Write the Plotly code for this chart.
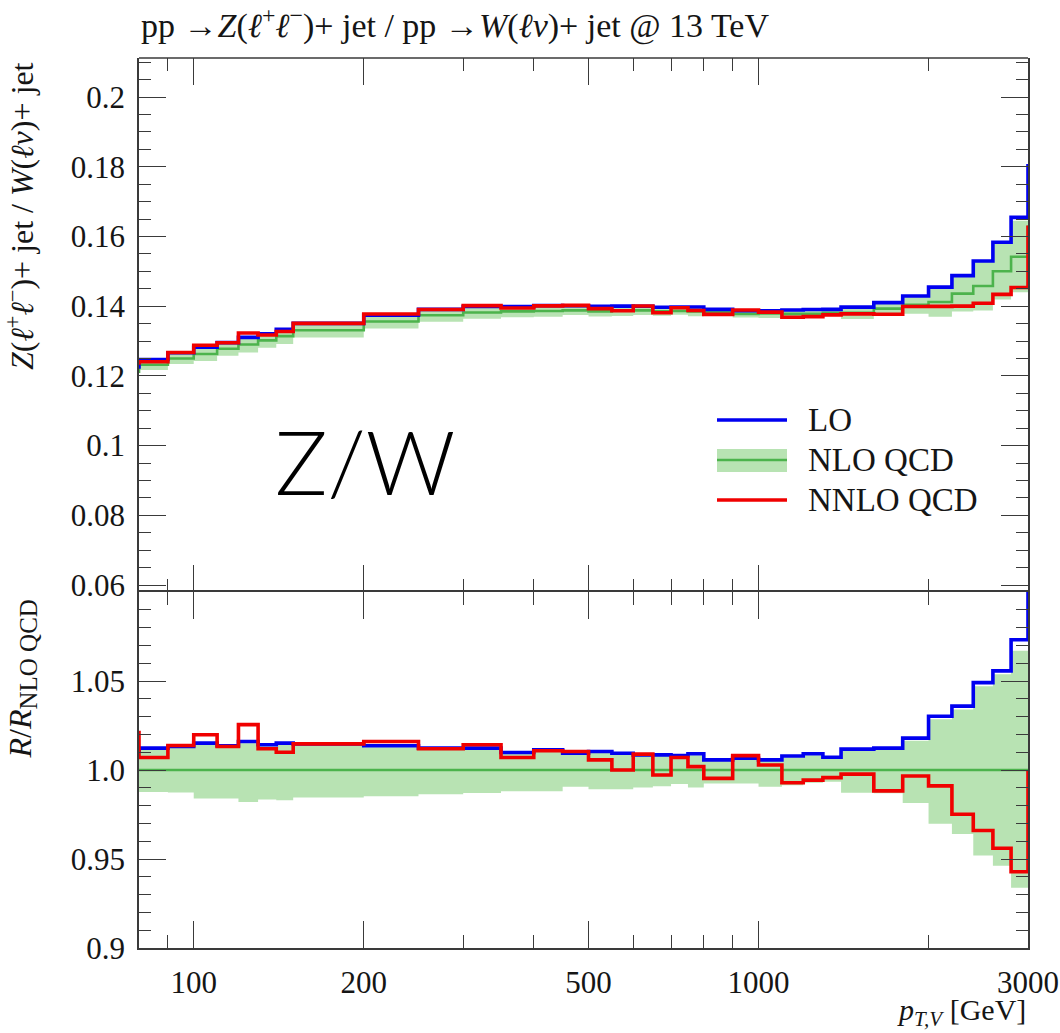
import math
import plotly.graph_objects as go

# Bin edges in p_T,V [GeV]; first and last bins are the under/overflow bins
edges = [70, 80, 90, 100, 110, 120, 130, 140, 150, 200, 250, 300, 350, 400, 450,
         500, 550, 600, 650, 700, 750, 800, 900, 1000, 1100, 1200, 1300, 1400,
         1600, 1800, 2000, 2200, 2400, 2600, 2800, 3000, 3500]

# NLO QCD central value of the Z+jet / W+jet ratio, per bin
nlo = [0.1212,
       0.1232, 0.1250, 0.1263, 0.1278, 0.1290, 0.1302, 0.1314, 0.1331, 0.1356, 0.1374,
       0.1382, 0.1385, 0.1386, 0.1388, 0.1385, 0.1387, 0.1388, 0.1385, 0.1386, 0.1385,
       0.1383, 0.1378, 0.1379, 0.1378, 0.1378, 0.1381, 0.1381, 0.1393, 0.1404, 0.1412,
       0.1436, 0.1458, 0.1500, 0.1542,
       0.1628]

# LO / NLO QCD
lo_ratio = [1.0110,
            1.0123, 1.0132, 1.0151, 1.0136, 1.0160, 1.0142, 1.0151, 1.0147, 1.0136, 1.0123,
            1.0123, 1.0098, 1.0113, 1.0094, 1.0104, 1.0094, 1.0085, 1.0085, 1.0081, 1.0091,
            1.0057, 1.0066, 1.0057, 1.0079, 1.0091, 1.0072, 1.0117, 1.0123, 1.0179, 1.0302,
            1.0359, 1.0491, 1.0557, 1.0732,
            1.1075]

# NNLO QCD / NLO QCD
nnlo_ratio = [1.0210,
              1.0070, 1.0138, 1.0198, 1.0132, 1.0255, 1.0119, 1.0100, 1.0147, 1.0160, 1.0119,
              1.0142, 1.0070, 1.0108, 1.0104, 1.0057, 1.0000, 1.0089, 0.9972, 1.0070, 1.0019,
              0.9953, 1.0081, 1.0028, 0.9928, 0.9943, 0.9957, 0.9977, 0.9883, 0.9966, 0.9911,
              0.9751, 0.9660, 0.9560, 0.9428,
              0.9990]

# NLO QCD scale-uncertainty band (relative to the NLO central value), 80-3000 GeV bins
band_low = [0.9877, 0.9874, 0.9840, 0.9840, 0.9820, 0.9834, 0.9830, 0.9845, 0.9853, 0.9864,
            0.9871, 0.9881, 0.9881, 0.9906, 0.9892, 0.9892, 0.9902, 0.9909, 0.9921, 0.9902,
            0.9924, 0.9924, 0.9906, 0.9915, 0.9928, 0.9934, 0.9872, 0.9870, 0.9815, 0.9698,
            0.9641, 0.9519, 0.9462, 0.9339]
band_high = [1.0115, 1.0125, 1.0142, 1.0128, 1.0150, 1.0134, 1.0142, 1.0138, 1.0128, 1.0115,
             1.0115, 1.0090, 1.0105, 1.0086, 1.0096, 1.0086, 1.0078, 1.0078, 1.0074, 1.0083,
             1.0050, 1.0058, 1.0050, 1.0071, 1.0083, 1.0065, 1.0108, 1.0114, 1.0165, 1.0285,
             1.0340, 1.0470, 1.0538, 1.0670]

x_major = [100, 200, 500, 1000, 3000]
x_major_text = ["100", "200", "500", "1000", "3000"]
x_minor = [90, 300, 400, 600, 700, 800, 900, 2000]

y_top_ticks = [0.06, 0.08, 0.10, 0.12, 0.14, 0.16, 0.18, 0.20]
y_top_text = ["0.06", "0.08", "0.1", "0.12", "0.14", "0.16", "0.18", "0.2"]
y_bot_ticks = [0.90, 0.95, 1.00, 1.05]
y_bot_text = ["0.9", "0.95", "1.0", "1.05"]

BLUE = "#0000f0"
RED = "#f00000"
GREEN = "#4cb34c"
BAND = "#b8e3b3"
FRAME = "#3a3a3a"
TEXT = "#151515"
SERIF = "Liberation Serif"

W, H = 1060, 1033
L, R, T, B = 139, 32, 58, 85


def px(x):
    return (x - L) / (W - L - R)


def py(y):
    return (H - B - y) / (H - T - B)


def step(vals):
    return list(vals) + [vals[-1]]


band_edges = edges[1:-1]
nlo_in = nlo[1:-1]
lo_abs = [n * r for n, r in zip(nlo, lo_ratio)]
nnlo_abs = [n * r for n, r in zip(nlo, nnlo_ratio)]
band_low_abs = [n * r for n, r in zip(nlo_in, band_low)]
band_high_abs = [n * r for n, r in zip(nlo_in, band_high)]

fig = go.Figure()

for xa, ya, lo_b, hi_b, central, lo_v, nnlo_v in [
    ("x", "y", band_low_abs, band_high_abs, nlo, lo_abs, nnlo_abs),
    ("x2", "y2", band_low, band_high, [1.0] * len(nlo), lo_ratio, nnlo_ratio),
]:
    fig.add_trace(go.Scatter(x=band_edges, y=step(lo_b), xaxis=xa, yaxis=ya,
                             mode="lines", line=dict(width=0, shape="hv"),
                             hoverinfo="skip", showlegend=False))
    fig.add_trace(go.Scatter(x=band_edges, y=step(hi_b), xaxis=xa, yaxis=ya,
                             mode="lines", line=dict(width=0, shape="hv"),
                             fill="tonexty", fillcolor=BAND,
                             hoverinfo="skip", showlegend=False))
    fig.add_trace(go.Scatter(x=edges, y=step(central), xaxis=xa, yaxis=ya,
                             mode="lines", line=dict(color=GREEN, width=2.6, shape="hv"),
                             showlegend=False))
    fig.add_trace(go.Scatter(x=edges, y=step(lo_v), xaxis=xa, yaxis=ya,
                             mode="lines", line=dict(color=BLUE, width=3.6, shape="hv"),
                             showlegend=False))
    fig.add_trace(go.Scatter(x=edges, y=step(nnlo_v), xaxis=xa, yaxis=ya,
                             mode="lines", line=dict(color=RED, width=3.6, shape="hv"),
                             showlegend=False))

tick_font = dict(family=SERIF, size=31, color=TEXT)

common_x = dict(type="log", range=[math.log10(80), math.log10(3000)],
                tickmode="array", tickvals=x_major, ticktext=x_major_text,
                ticks="inside", ticklen=27, tickwidth=1.3, tickcolor=FRAME,
                minor=dict(tickmode="array", tickvals=x_minor, ticks="inside",
                           ticklen=13, tickwidth=1.3, tickcolor=FRAME),
                linecolor=FRAME, linewidth=1.6, mirror="allticks",
                showgrid=False, zeroline=False, tickfont=tick_font,
                automargin=False)
common_y = dict(ticks="inside", ticklen=27, tickwidth=1.3, tickcolor=FRAME,
                showline=True, linecolor=FRAME, linewidth=1.6, mirror="allticks",
                showgrid=False, zeroline=False, tickfont=tick_font,
                ticklabelstandoff=6, automargin=False)

fig.update_layout(
    width=W, height=H,
    margin=dict(l=L, r=R, t=T, b=B),
    paper_bgcolor="white", plot_bgcolor="white",
    showlegend=False,
    # the upper panel's bottom edge is drawn by the ratio panel's top line
    xaxis=dict(common_x, domain=[0, 1], anchor="y", showticklabels=False,
               showline=False),
    xaxis2=dict(common_x, domain=[0, 1], anchor="y2", showticklabels=True,
                showline=True, ticklabelstandoff=6),
    yaxis=dict(common_y, domain=[0.4, 1], anchor="x", range=[0.058, 0.2112],
               tickmode="array", tickvals=y_top_ticks, ticktext=y_top_text,
               minor=dict(dtick=0.005, tick0=0, ticks="inside", ticklen=12,
                          tickwidth=1.3, tickcolor=FRAME)),
    yaxis2=dict(common_y, domain=[0, 0.4], anchor="x2", range=[0.9, 1.1],
                tickmode="array", tickvals=y_bot_ticks, ticktext=y_bot_text,
                minor=dict(dtick=0.01, tick0=0, ticks="inside", ticklen=12,
                           tickwidth=1.3, tickcolor=FRAME)),
)

annotations = [
    dict(text="pp →<i>Z</i>(<i>ℓ</i><sup>+</sup><i>ℓ</i><sup>−</sup>)+ jet / "
              "pp →<i>W</i>(<i>ℓν</i>)+ jet @ 13 TeV",
         x=px(139), y=py(23), xanchor="left", yanchor="middle",
         font=dict(family=SERIF, size=34, color=TEXT)),
    dict(text="<i>Z</i>(<i>ℓ</i><sup>+</sup><i>ℓ</i><sup>−</sup>)+ jet / "
              "<i>W</i>(<i>ℓν</i>)+ jet",
         x=px(20), y=py(60), xanchor="center", yanchor="top", textangle=-90,
         font=dict(family=SERIF, size=32, color=TEXT)),
    dict(text="<i>R</i>/<i>R</i><sub><span style='font-size:25px'>NLO QCD</span></sub>",
         x=px(22), y=py(598), xanchor="center", yanchor="top", textangle=-90,
         font=dict(family=SERIF, size=32, color=TEXT)),
    dict(text="<i>p</i><sub><i>T,V</i></sub> [GeV]",
         x=px(1028), y=py(1033), xanchor="right", yanchor="bottom",
         font=dict(family=SERIF, size=30, color=TEXT)),
    dict(text="Z/W", x=px(365), y=py(461), xanchor="center", yanchor="middle",
         font=dict(family="Lato", size=88, color="#000", weight=300)),
]

legend_rows = [("LO", 420), ("NLO QCD", 460), ("NNLO QCD", 500)]
for label, yy in legend_rows:
    annotations.append(dict(text=label, x=px(806), y=py(yy), xanchor="left",
                            yanchor="middle",
                            font=dict(family=SERIF, size=33, color=TEXT)))

for a in annotations:
    a.update(xref="paper", yref="paper", showarrow=False)
fig.update_layout(annotations=annotations)

shapes = [
    # top edge of the upper panel
    dict(type="line", x0=0, x1=1, y0=1, y1=1,
         line=dict(color=FRAME, width=1.6)),
    dict(type="rect", x0=px(717), x1=px(787), y0=py(449), y1=py(472),
         fillcolor=BAND, line=dict(width=0)),
    dict(type="line", x0=px(717), x1=px(787), y0=py(420), y1=py(420),
         line=dict(color=BLUE, width=3.6)),
    dict(type="line", x0=px(717), x1=px(787), y0=py(460), y1=py(460),
         line=dict(color=GREEN, width=2.6)),
    dict(type="line", x0=px(717), x1=px(787), y0=py(500), y1=py(500),
         line=dict(color=RED, width=3.6)),
]
for s in shapes:
    s.update(xref="paper", yref="paper")
fig.update_layout(shapes=shapes)

fig.write_html("out.html")
